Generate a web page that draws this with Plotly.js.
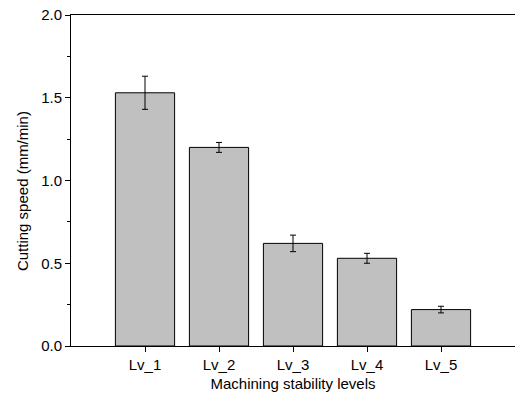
<!DOCTYPE html>
<html><head><meta charset="utf-8">
<script src="https://cdn.plot.ly/plotly-3.0.1.min.js"></script>
<style>html,body{margin:0;padding:0;background:#fff}</style>
</head><body>
<div id="chart" style="width:515px;height:401px"></div>
<script>
const categories = ["Lv_1", "Lv_2", "Lv_3", "Lv_4", "Lv_5"];
const positions = [1, 2, 3, 4, 5];
const speeds = [1.53, 1.20, 0.62, 0.53, 0.22];
const errors = [0.10, 0.03, 0.05, 0.03, 0.02];

const font = {family: "Liberation Sans, Arial, sans-serif", size: 15, color: "#000"};

Plotly.newPlot("chart", [{
  type: "bar",
  x: positions,
  y: speeds,
  width: 0.8,
  marker: {color: "#c0c0c0", line: {color: "#000", width: 1}},
  error_y: {type: "data", array: errors, visible: true, color: "#000", thickness: 1, width: 3}
}], {
  width: 515, height: 401,
  margin: {l: 71, r: 0, t: 15, b: 55},
  paper_bgcolor: "#fff", plot_bgcolor: "#fff",
  showlegend: false,
  font: font,
  xaxis: {
    range: [0, 6], tickmode: "array", tickvals: positions, ticktext: categories,
    showgrid: false, zeroline: false, showline: true, linecolor: "#000", linewidth: 1,
    mirror: true, ticks: "outside", ticklen: 5, tickcolor: "#000",
    title: {text: "Machining stability levels", font: font, standoff: 6}
  },
  yaxis: {
    range: [0, 2.0], tickvals: [0, 0.5, 1.0, 1.5, 2.0], ticktext: ["0.0", "0.5", "1.0", "1.5", "2.0"],
    tickmode: "array",
    showgrid: false, zeroline: false, showline: true, linecolor: "#000", linewidth: 1,
    ticks: "outside", ticklen: 5, tickcolor: "#000",
    minor: {tickvals: [0.25, 0.75, 1.25, 1.75], ticks: "outside", ticklen: 3, tickcolor: "#000"}
  },
  annotations: [{
    text: "Cutting speed (mm/min)", textangle: -90, showarrow: false,
    xref: "paper", yref: "paper", x: 0, y: 0.468, xanchor: "center", yanchor: "middle",
    xshift: -49, font: font
  }]
}, {displayModeBar: false, staticPlot: true});
</script>
</body></html>
